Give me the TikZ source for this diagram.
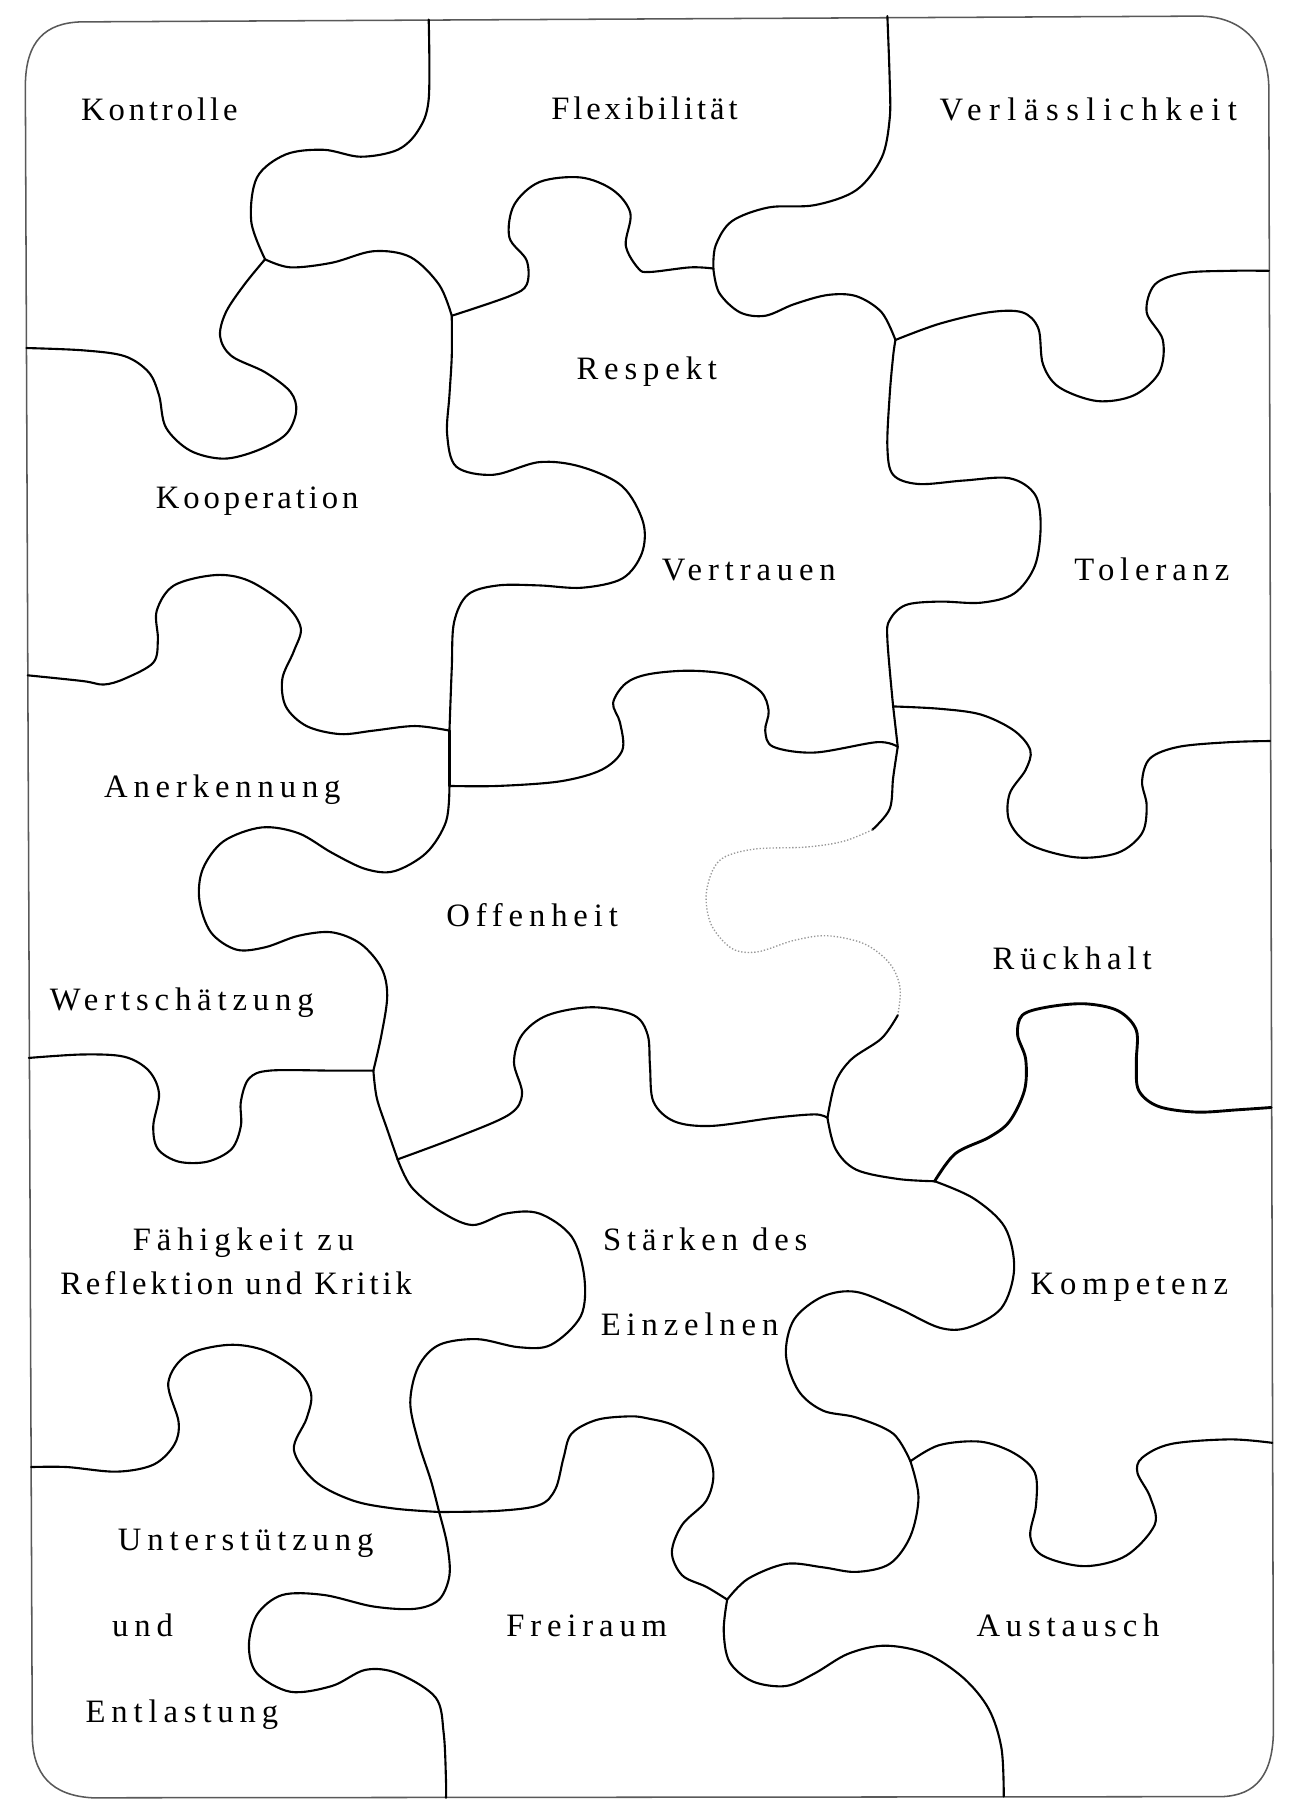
\documentclass[tikz,border=0pt]{standalone}
\usepackage{fontspec}
\setmainfont{Liberation Serif}
\newfontfamily\lblfont[LetterSpace=18]{Liberation Serif}
\newfontfamily\lbltight[LetterSpace=12]{Liberation Serif}
\newfontfamily\lblwide[LetterSpace=23]{Liberation Serif}
\begin{document}
\begin{tikzpicture}[x=0.6pt,y=-0.6pt,
  cut/.style={line width=1.1pt,line join=round,line cap=round},
  faint/.style={line width=0.7pt,black!40,densely dotted},
  frame/.style={line width=0.8pt,black!65},
  lbl/.style={anchor=base west,inner sep=0pt,font=\lblfont\fontsize{17}{20}\selectfont},
  lbltight/.style={lbl,font=\lbltight\fontsize{17}{20}\selectfont},
  lblwide/.style={lbl,font=\lblwide\fontsize{17}{20}\selectfont}]
\useasboundingbox (0,0) rectangle (1127,1568);
% junctions
\coordinate (J1) at (230,225);
\coordinate (J2) at (392,274);
\coordinate (J3) at (390,634);
\coordinate (J4) at (390,682);
\coordinate (J5) at (324,929);
\coordinate (J6) at (779,648);
\coordinate (J7) at (775,613);
\coordinate (J8) at (718,970);
\coordinate (J9) at (345,1006);
\coordinate (J10) at (381,1312);
\coordinate (J11) at (631,1388);
\coordinate (J12) at (790,1268);
\coordinate (J13) at (811,1025);
\coordinate (J14) at (777,295);
\coordinate (J15) at (619,233);
% frame
\draw[frame] (22,75) .. controls (22,35) and (40,20) .. (70,19) -- (1040,14)
  .. controls (1080,14) and (1100,40) .. (1101,75) -- (1105,1500)
  .. controls (1105,1540) and (1090,1558) .. (1060,1559) -- (80,1560)
  .. controls (45,1558) and (28,1540) .. (28,1505) -- cycle;
% cuts
\draw[cut] plot[smooth,tension=0.55] coordinates {(372,17) (372,86) (363,113) (345,130) (313,136) (281,130) (248,134) (223,154) (218,192) (J1)};
\draw[cut] plot[smooth,tension=0.55] coordinates {(J1) (252,232) (288,228) (324,218) (356,223) (381,247) (J2)};
\draw[cut] plot[smooth,tension=0.55] coordinates {(J1) (212,247) (196,271) (191,292) (201,309) (230,323) (252,340) (257,357) (248,377) (223,391) (194,398) (165,391) (144,371) (138,343) (129,323) (108,309) (72,304) (23,302)};
\draw[cut] plot[smooth,tension=0.55] coordinates {(J2) (392,309) (390,343) (388,377) (396,405) (428,412) (468,401) (504,405) (540,422) (558,453) (557,480) (540,502) (505,510) (468,508) (432,508) (406,516) (394,540) (392,580) (J3)};
\draw[cut] (J3) -- (J4);
\draw[cut] plot[smooth,tension=0.55] coordinates {(J4) (387,713) (370,740) (342,756) (317,754) (288,740) (259,723) (227,718) (194,730) (176,754) (173,781) (183,809) (205,824) (230,822) (259,812) (288,809) (313,819) (331,840) (336,864) (331,898) (J5)};
\draw[cut] plot[smooth,tension=0.55] coordinates {(J3) (360,630) (324,634) (295,637) (266,630) (248,613) (245,589) (255,565) (261,545) (248,525) (216,504) (187,499) (151,508) (136,530) (137,555) (133,575) (108,589) (90,594) (72,591) (24,586)};
\draw[cut] plot[smooth,tension=0.55] coordinates {(J4) (432,682) (486,678) (522,668) (540,651) (538,627) (532,610) (543,593) (563,585) (599,582) (635,586) (660,600) (667,617) (664,634) (671,648) (707,653) (761,644) (J6)};
\draw[cut] plot[smooth,tension=0.55] coordinates {(J14) (775,309) (772,343) (770,388) (775,412) (797,420) (836,417) (876,415) (898,429) (903,456) (898,491) (880,515) (851,523) (815,522) (786,525) (772,538) (770,555) (J7)};
\draw[cut] (J7) -- (J6);
\draw[cut] plot[smooth,tension=0.55] coordinates {(J6) (775,675) (772,702) (757,720)};
\draw[faint] plot[smooth,tension=0.55] coordinates {(757,720) (732,730) (700,735) (653,737) (624,747) (613,774) (617,802) (635,823) (657,826) (689,816) (718,812) (750,819) (772,836) (781,857) (779,881)};
\draw[cut] plot[smooth,tension=0.55] coordinates {(779,881) (765,901) (739,919) (725,939) (J8)};
\draw[cut] plot[smooth,tension=0.55] coordinates {(J8) (707,967) (671,970) (617,977) (585,973) (567,956) (564,925) (562,898) (550,881) (514,874) (475,881) (453,898) (446,922) (453,949) (442,967) (396,987) (J9)};
\draw[cut] plot[smooth,tension=0.55] coordinates {(J5) (327,953) (336,980) (J9)};
\draw[cut] plot[smooth,tension=0.55] coordinates {(J5) (288,929) (234,929) (216,936) (209,956) (209,977) (201,997) (180,1008) (155,1008) (137,997) (133,977) (138,949) (129,929) (108,917) (72,915) (25,918)};
\draw[cut] plot[smooth,tension=0.55] coordinates {(J9) (357,1030) (382,1051) (410,1063) (439,1053) (468,1053) (496,1073) (507,1108) (504,1142) (478,1167) (450,1169) (414,1162) (381,1167) (363,1186) (356,1217) (363,1251) (374,1285) (J10)};
\draw[cut] plot[smooth,tension=0.55] coordinates {(J10) (342,1309) (306,1302) (273,1285) (255,1258) (266,1231) (270,1210) (259,1190) (230,1172) (198,1167) (162,1176) (146,1200) (155,1234) (151,1254) (133,1271) (101,1277) (58,1273) (27,1273)};
\draw[cut] plot[smooth,tension=0.55] coordinates {(J10) (432,1311) (468,1306) (482,1292) (489,1265) (496,1244) (518,1232) (547,1229) (563,1231) (585,1237) (610,1254) (619,1278) (613,1302) (592,1323) (583,1347) (592,1367) (613,1377) (J11)};
\draw[cut] plot[smooth,tension=0.55] coordinates {(J11) (649,1370) (682,1357) (714,1360) (743,1364) (772,1357) (790,1333) (797,1299) (J12)};
\draw[cut] plot[smooth,tension=0.55] coordinates {(J12) (775,1244) (743,1230) (714,1224) (693,1207) (682,1176) (689,1145) (714,1125) (743,1121) (779,1135) (815,1152) (840,1152) (869,1135) (880,1101) (872,1065) (845,1040) (J13)};
\draw[cut] plot[smooth,tension=0.55] coordinates {(J13) (779,1023) (743,1015) (725,997) (J8)};
\draw[cut,line width=1.5pt] plot[smooth,tension=0.55] coordinates {(J13) (829,1001) (858,987) (876,973) (889,946) (890,919) (883,898) (887,881) (908,874) (941,871) (970,877) (986,894) (986,922) (988,946) (1005,960) (1038,965) (1074,963) (1103,961)};
\draw[cut] plot[smooth,tension=0.55] coordinates {(J12) (815,1254) (851,1251) (880,1261) (898,1278) (899,1306) (894,1333) (905,1350) (941,1359) (977,1350) (1002,1323) (998,1299) (987,1278) (991,1265) (1016,1253) (1067,1249) (1104,1252)};
\draw[cut] plot[smooth,tension=0.55] coordinates {(J11) (628,1415) (633,1442) (653,1459) (682,1463) (707,1452) (736,1435) (768,1428) (804,1435) (836,1456) (858,1483) (869,1517) (871,1559)};
\draw[cut] plot[smooth,tension=0.55] coordinates {(J10) (388,1340) (390,1367) (381,1388) (360,1396) (324,1394) (281,1384) (245,1384) (223,1401) (216,1428) (223,1452) (252,1468) (288,1463) (317,1449) (345,1452) (378,1473) (385,1504) (387,1545) (387,1560)};
\draw[cut] plot[smooth,tension=0.55] coordinates {(J7) (815,615) (851,620) (880,634) (894,651) (890,668) (876,689) (876,713) (894,733) (934,744) (970,740) (991,723) (995,699) (991,678) (998,658) (1023,648) (1067,644) (1102,643)};
\draw[cut] plot[smooth,tension=0.55] coordinates {(J14) (815,281) (858,271) (887,271) (901,285) (905,316) (919,336) (952,348) (984,343) (1006,323) (1009,295) (995,271) (1002,247) (1027,237) (1067,235) (1101,235)};
\draw[cut] plot[smooth,tension=0.55] coordinates {(J14) (765,271) (743,257) (718,256) (689,264) (664,274) (642,271) (624,254) (J15)};
\draw[cut] plot[smooth,tension=0.55] coordinates {(J15) (599,232) (564,236) (554,233) (543,213) (547,185) (532,165) (504,154) (468,158) (446,178) (442,206) (457,226) (457,247) (442,257) (J2)};
\draw[cut] plot[smooth,tension=0.55] coordinates {(J15) (621,213) (635,192) (667,180) (707,178) (743,165) (765,137) (772,103) (772,69) (770,14)};
% labels
\node[lbltight] (kontrolle) at (70,105) {Kontrolle};
\node[lbltight] (flex) at (478,104) {Flexibilität};
\node[lblwide] (verl) at (815,105) {Verlässlichkeit};
\node[lbl] (respekt) at (500,329) {Respekt};
\node[lbltight] (koop) at (135,441) {Kooperation};
\node[lbl] (vertrauen) at (574,504) {Vertrauen};
\node[lbl] (toleranz) at (932,504) {Toleranz};
\node[lbl] (anerk) at (90,692) {Anerkennung};
\node[lbl] (offen) at (387,804) {Offenheit};
\node[lbl] (rueck) at (861,841) {Rückhalt};
\node[lbl] (wert) at (43,877) {Wertschätzung};
\node[lbl] (faeh1) at (115,1085) {Fähigkeit zu};
\node[lbltight] (faeh2) at (52,1123) {Reflektion und Kritik};
\node[lbl] (staerk1) at (523,1085) {Stärken des};
\node[lbl] (staerk2) at (521,1159) {Einzelnen};
\node[lbl] (komp) at (894,1123) {Kompetenz};
\node[lbl] (unter1) at (102,1345) {Unterstützung};
\node[lbl] (unter2) at (97,1420) {und};
\node[lbl] (unter3) at (74,1495) {Entlastung};
\node[lbl] (frei) at (439,1420) {Freiraum};
\node[lbl] (aus) at (847,1420) {Austausch};
\end{tikzpicture}
\end{document}
